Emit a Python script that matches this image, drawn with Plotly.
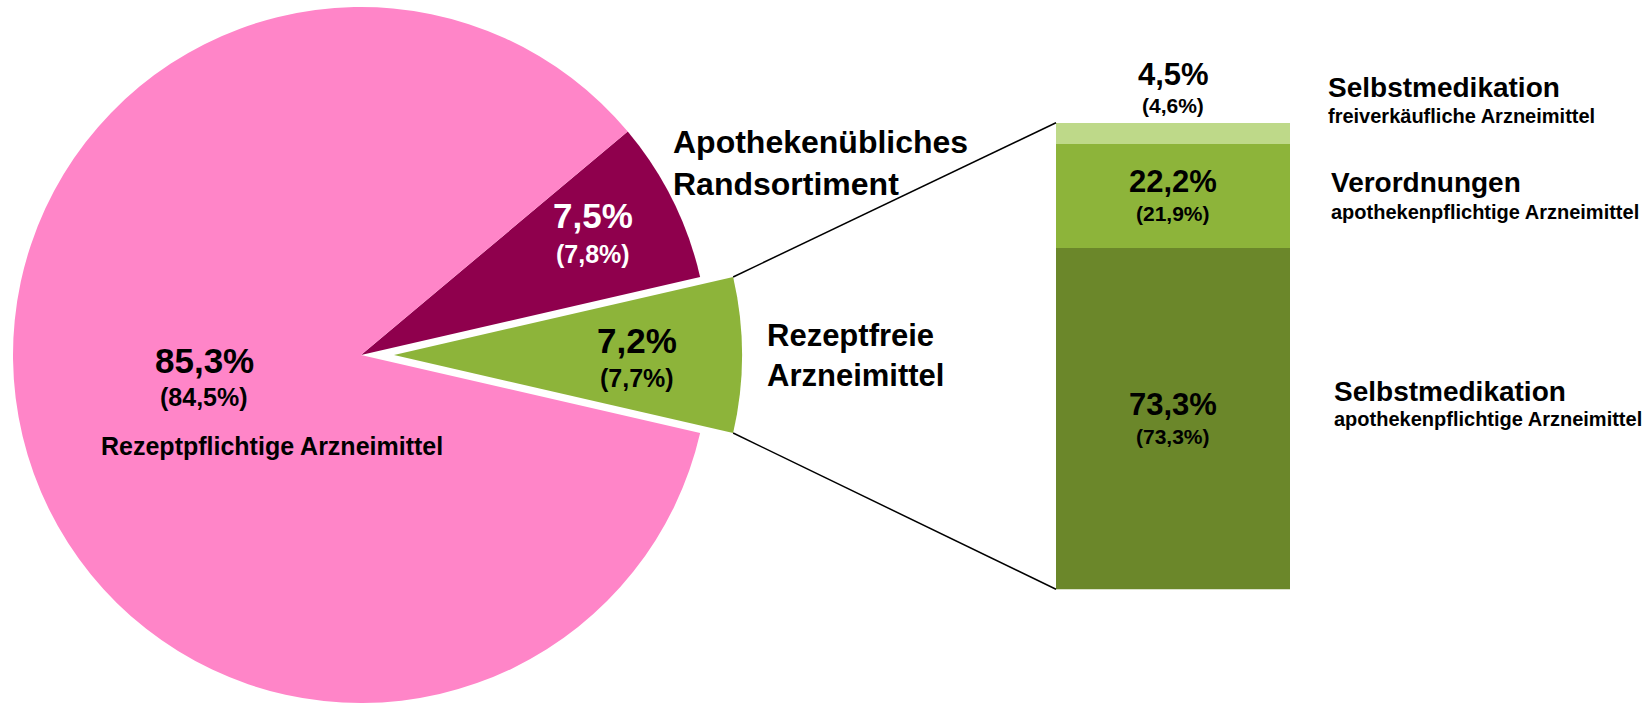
import math
import plotly.graph_objects as go

# ---------------- data ----------------
pie_labels = ["Apothekenübliches Randsortiment", "Rezeptfreie Arzneimittel", "Rezeptpflichtige Arzneimittel"]
pie_share = [7.5, 7.2, 85.3]          # current year, %
pie_prev = [7.8, 7.7, 84.5]           # previous year, %

bar_labels = ["Selbstmedikation apothekenpflichtige Arzneimittel",
              "Verordnungen apothekenpflichtige Arzneimittel",
              "Selbstmedikation freiverkäufliche Arzneimittel"]
bar_share = [73.3, 22.2, 4.5]
bar_prev = [73.3, 21.9, 4.6]

# ---------------- style ----------------
W, H = 1644, 703
PINK = "#FF85C8"
MAGENTA = "#8F004D"
GREEN = "#8DB43A"
LIGHT = "#BED989"
DARK = "#6B872A"
NONE = "rgba(0,0,0,0)"
FONT = "Liberation Sans, Arial, sans-serif"

def fmt(v):
    return f"{v:.1f}".replace(".", ",") + "%"

def px(x):
    return x / W

def py(y):
    return 1 - y / H

# pie geometry (pixels)
R = 348.0
CX, CY = 361.0, 355.0
SHIFT = 33.0
pie_dom_y = [py(CY + R), py(CY - R)]

def pie_domain(cx):
    return dict(x=[px(cx - R), px(cx + R)], y=pie_dom_y)

half = pie_share[1] / 100 * 180.0          # half angle of green slice
rotation = 90 - half - pie_share[0] / 100 * 360.0

fig = go.Figure()
fig.add_trace(go.Pie(
    labels=pie_labels, values=pie_share, sort=False, direction="clockwise",
    rotation=rotation, domain=pie_domain(CX),
    marker=dict(colors=[MAGENTA, NONE, PINK], line=dict(width=0)),
    textinfo="none", hoverinfo="skip", showlegend=False))
fig.add_trace(go.Pie(
    labels=pie_labels, values=pie_share, sort=False, direction="clockwise",
    rotation=rotation, domain=pie_domain(CX + SHIFT),
    marker=dict(colors=[NONE, GREEN, NONE], line=dict(width=0)),
    textinfo="none", hoverinfo="skip", showlegend=False))

# stacked bar
BAR_L, BAR_R = 1056.0, 1290.0
BAR_T, BAR_B = 122.7, 589.3
bar_colors = [DARK, GREEN, LIGHT]
for lab, v, c in zip(bar_labels, bar_share, bar_colors):
    fig.add_trace(go.Bar(x=["Rezeptfrei"], y=[v], name=lab, marker=dict(color=c, line=dict(width=0)),
                         hoverinfo="skip", showlegend=False))

anns = []

def add(text, x, y, size, color="black", xanchor="center", xref="paper", yref="paper", yshift=0, family=FONT):
    anns.append(dict(text=text, x=x, y=y, xref=xref, yref=yref, xanchor=xanchor, yanchor="middle",
                     showarrow=False, font=dict(family=family, size=size, color=color), yshift=yshift,
                     align="left" if xanchor == "left" else "center"))

# pie labels
add(f"<b>{fmt(pie_share[2])}</b>", px(204), py(360), 35)
add(f"<b>({fmt(pie_prev[2])})</b>", px(204), py(397), 25)
add(f"<b>{pie_labels[2]}</b>", px(272), py(446), 25)
add(f"<b>{fmt(pie_share[0])}</b>", px(593), py(216), 35, "white")
add(f"<b>({fmt(pie_prev[0])})</b>", px(593), py(254), 25, "white")
add("<b>Apothekenübliches<br>Randsortiment</b>", px(671), py(163), 32, xanchor="left")
add(f"<b>{fmt(pie_share[1])}</b>", px(637), py(340), 35)
add(f"<b>({fmt(pie_prev[1])})</b>", px(637), py(378), 25)
add("<b>Rezeptfreie<br>Arzneimittel</b>", px(765), py(355), 31, xanchor="left")

# bar labels (positioned from the stacked values)
cum = 0
for i, (v, p) in enumerate(zip(bar_share, bar_prev)):
    mid = cum + v / 2
    cum += v
    if i == 2:
        add(f"<b>{fmt(v)}</b>", 0.5, cum, 31, xref="x domain", yref="y", yshift=48)
        add(f"<b>({fmt(p)})</b>", 0.5, cum, 21, xref="x domain", yref="y", yshift=17)
    else:
        add(f"<b>{fmt(v)}</b>", 0.5, mid, 31, xref="x domain", yref="y", yshift=14)
        add(f"<b>({fmt(p)})</b>", 0.5, mid, 21, xref="x domain", yref="y", yshift=-18)

# bar legend texts
add("<b>Selbstmedikation</b>", px(1326), py(88), 28, xanchor="left")
add("<b>freiverkäufliche Arzneimittel</b>", px(1326), py(116), 20, xanchor="left")
add("<b>Verordnungen</b>", px(1329), py(182), 28, xanchor="left")
add("<b>apothekenpflichtige Arzneimittel</b>", px(1329), py(212), 20, xanchor="left")
add("<b>Selbstmedikation</b>", px(1332), py(391), 28, xanchor="left")
add("<b>apothekenpflichtige Arzneimittel</b>", px(1332), py(419), 20, xanchor="left")

# connector lines from exploded slice corners to bar corners
gx = CX + SHIFT + R * math.cos(math.radians(half))
gy_top = CY - R * math.sin(math.radians(half))
gy_bot = CY + R * math.sin(math.radians(half))
shapes = [
    dict(type="line", xref="paper", yref="paper", x0=px(gx), y0=py(gy_top), x1=px(BAR_L), y1=py(BAR_T),
         line=dict(color="black", width=1.5)),
    dict(type="line", xref="paper", yref="paper", x0=px(gx), y0=py(gy_bot), x1=px(BAR_L), y1=py(BAR_B),
         line=dict(color="black", width=1.5)),
]

fig.update_layout(
    width=W, height=H, margin=dict(l=0, r=0, t=0, b=0),
    paper_bgcolor="white", plot_bgcolor="white",
    barmode="stack", bargap=0, showlegend=False,
    xaxis=dict(domain=[px(BAR_L), px(BAR_R)], visible=False, type="category"),
    yaxis=dict(domain=[py(BAR_B), py(BAR_T)], range=[0, 100], visible=False),
    annotations=anns, shapes=shapes,
    font=dict(family=FONT),
)

fig.write_html("out.html", config={"displayModeBar": False},
               post_script="document.body.style.margin='0';document.body.style.overflow='hidden';")
